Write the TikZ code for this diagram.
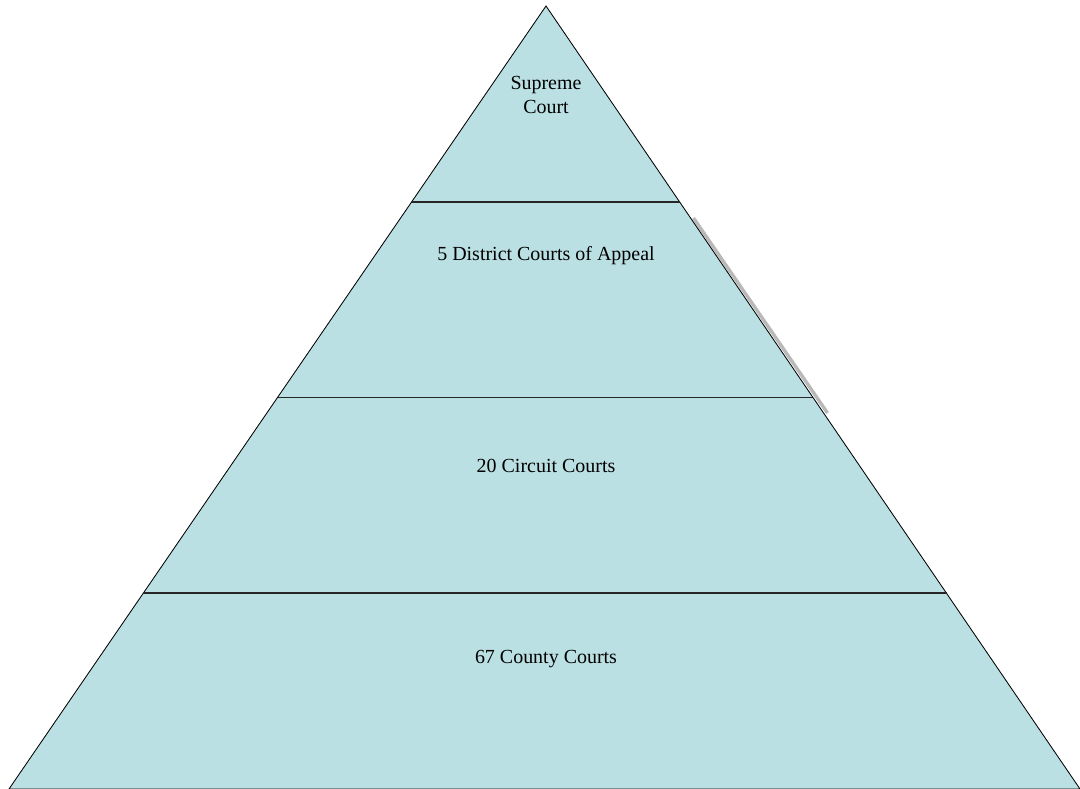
\documentclass[tikz,border=0pt]{standalone}
\usepackage{fontspec}
\setmainfont{Liberation Serif}
\usepackage{xcolor}
\usetikzlibrary{calc}
\tikzset{
	tier/.style = {align=center, inner sep=0pt, text centered, font=\fontsize{14.2}{16.5}\selectfont},
	divider/.style = {line width=1.3pt, draw=black!85},
}
\definecolor{pyramidblue}{RGB}{187,224,227}

\begin{document}
\begin{tikzpicture}[x=0.025cm, y=-0.025cm]
	\useasboundingbox (0,0) rectangle (1080,789);

	\coordinate (apex) at (546,6);
	\coordinate (bl) at (9,789);
	\coordinate (br) at (1080,789);
	\coordinate (sh1) at (693.5,218);
	\coordinate (sh2) at (827.5,413);

	%\draw[gray!55, line width=2pt] (695,218) -- (831,413);
	\draw[gray!55, line width=2.4pt] (sh1) -- (sh2);
	\filldraw[fill=pyramidblue, draw=black, line width=0.6pt] (apex) -- (bl) -- (br) -- cycle;

	\foreach \t in {0.25,0.5,0.75}
		\draw[divider] ($(apex)!\t!(bl)$) -- ($(apex)!\t!(br)$);

	\node[tier] (supreme) at (546,95) {Supreme\\Court};
	\node[tier] (district) at (546,256) {5 District Courts of Appeal};
	\node[tier] (circuit) at (546,466) {20 Circuit Courts};
	\node[tier] (county) at (546,659) {67 County Courts};
\end{tikzpicture}
\end{document}
